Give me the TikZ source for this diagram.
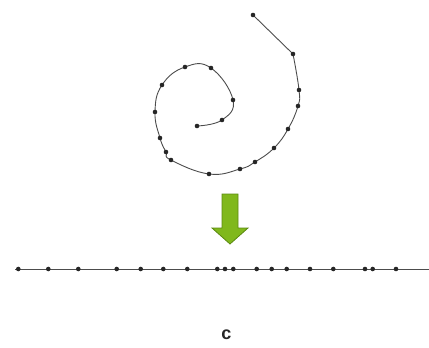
\documentclass[tikz,border=0pt]{standalone}
\usepackage{fontspec}
\setmainfont{Liberation Sans}
\begin{document}
\begin{tikzpicture}[x=1pt,y=-1pt,
  dotmark/.style={fill=black!85,draw=none},
  curveline/.style={draw=black!70,line width=0.9pt},
  greenarrow/.style={fill={rgb,255:red,128;green,184;blue,28},draw={rgb,255:red,92;green,138;blue,18},line width=0.8pt,line join=miter}]
\useasboundingbox (0,0) rectangle (429,348);
% spiral
\draw[curveline] (253,15) -- (293,54);
\draw[curveline] plot[smooth,tension=0.75] coordinates {(293,54) (299,90) (298,106) (288,129) (274,148) (255,162) (240,169) (209,174) (171,160) (166,152) (160,138) (155,112) (162,85) (185,67) (211,68) (233,100) (222,120) (197,126)};
\foreach \p in {(253,15),(293,54),(299,90),(298,106),(288,129),(274,148),(255,162),(240,169),(209,174),(171,160),(166,152),(160,138),(155,112),(162,85),(185,67),(211,68),(233,100),(222,120),(197,126)}
  \fill[dotmark] \p circle (2.3);
% arrow
\draw[greenarrow] (222,194) -- (238,194) -- (238,228) -- (248,228) -- (230,244) -- (212,228) -- (222,228) -- cycle;
% line
\coordinate (la) at (15,269);
\coordinate (lb) at (429,269);
\draw[curveline] (la) -- (lb);
\foreach \x in {18.3,48.3,78.3,116.7,140.7,163.3,187.3,217.3,225,233.3,256.7,271.7,286.7,310,333.3,365,372.7,396}
  \fill[dotmark] (\x,269) circle (2.3);
% label
\node[font=\fontsize{18}{20}\selectfont\bfseries,text=black!85] (lbl) at (226.5,335) {c};
\end{tikzpicture}
\end{document}
